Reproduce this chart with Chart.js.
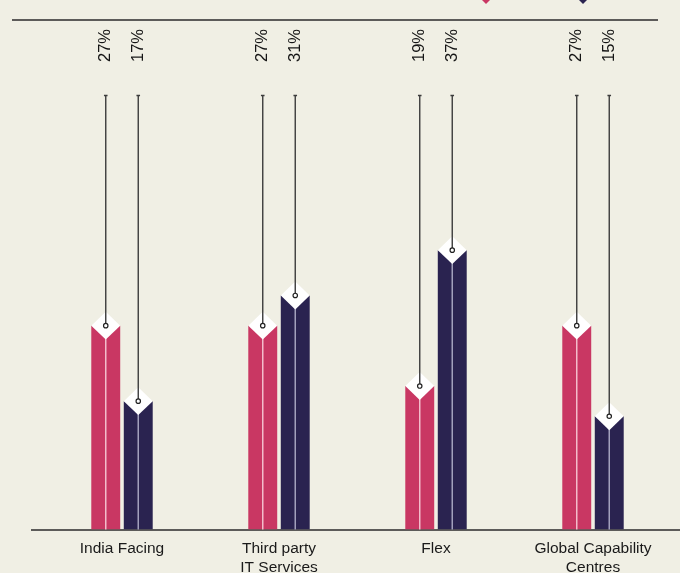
<!DOCTYPE html>
<html>
<head>
<meta charset="utf-8">
<script src="https://cdn.jsdelivr.net/npm/chart.js@4.4.1/dist/chart.umd.min.js"></script>
<style>
  html, body { margin: 0; padding: 0; background: #f0efe4; }
  #wrap { width: 680px; height: 573px; position: relative; }
</style>
</head>
<body>
<div id="wrap"><canvas id="workChart"></canvas></div>
<script>
// categories on the x axis (multi-line labels as arrays)
const categories = [['India Facing'], ['Third party', 'IT Services'], ['Flex'], ['Global Capability', 'Centres']];
const seriesNames = ['Series 1', 'Series 2'];
const pinkValues = [27, 27, 19, 27];
const navyValues = [17, 31, 37, 15];

const PINK = '#c93763';
const NAVY = '#2a2350';
const PINK_RIDGE = '#f3bccb';
const NAVY_RIDGE = '#a3a1bd';

// baseline, top rule and the legend markers peeking in at the top edge
const framePlugin = {
    id: 'frame',
    beforeDatasetsDraw(chart) {
        const ctx = chart.ctx;
        const bottom = chart.scales.y.getPixelForValue(0);
        ctx.save();
        ctx.strokeStyle = '#2b2b2b';
        ctx.lineWidth = 1.5;
        ctx.beginPath();
        ctx.moveTo(12, 20);
        ctx.lineTo(658, 20);
        ctx.moveTo(31, bottom + 0.5);
        ctx.lineTo(chart.width, bottom + 0.5);
        ctx.stroke();

        const marks = [[486, PINK], [583, NAVY]];
        marks.forEach(function(m) {
            ctx.fillStyle = m[1];
            ctx.beginPath();
            ctx.moveTo(m[0], -5);
            ctx.lineTo(m[0] + 4.5, -0.5);
            ctx.lineTo(m[0], 4);
            ctx.lineTo(m[0] - 4.5, -0.5);
            ctx.closePath();
            ctx.fill();
        });
        ctx.restore();
    }
};

// ridge line, white cap, leader line, dot and the rotated value label
const capPlugin = {
    id: 'caps',
    afterDatasetsDraw(chart) {
        const ctx = chart.ctx;
        ctx.save();
        chart.data.datasets.forEach(function(ds, di) {
            const meta = chart.getDatasetMeta(di);
            const ridge = di === 0 ? PINK_RIDGE : NAVY_RIDGE;
            meta.data.forEach(function(bar, i) {
                const x = bar.x;
                const y = bar.y;
                const hw = bar.width / 2;
                const hh = hw - 0.5;

                ctx.strokeStyle = ridge;
                ctx.lineWidth = 1.5;
                ctx.beginPath();
                ctx.moveTo(x, y);
                ctx.lineTo(x, bar.base);
                ctx.stroke();

                ctx.fillStyle = '#ffffff';
                ctx.beginPath();
                ctx.moveTo(x, y - hh);
                ctx.lineTo(x + hw, y);
                ctx.lineTo(x, y + hh);
                ctx.lineTo(x - hw, y);
                ctx.closePath();
                ctx.fill();

                ctx.strokeStyle = '#3c3c3c';
                ctx.lineWidth = 1.4;
                ctx.beginPath();
                ctx.moveTo(x, 95);
                ctx.lineTo(x, y);
                ctx.moveTo(x - 1.8, 95.5);
                ctx.lineTo(x + 1.8, 95.5);
                ctx.stroke();

                ctx.fillStyle = '#ffffff';
                ctx.strokeStyle = '#222';
                ctx.lineWidth = 1.2;
                ctx.beginPath();
                ctx.arc(x, y, 2.2, 0, Math.PI * 2);
                ctx.fill();
                ctx.stroke();

                ctx.save();
                ctx.translate(x, 29);
                ctx.rotate(-Math.PI / 2);
                ctx.fillStyle = '#151515';
                ctx.font = '16.5px "Liberation Sans", Arial, sans-serif';
                ctx.textAlign = 'right';
                ctx.textBaseline = 'middle';
                ctx.fillText(ds.data[i] + '%', 0, 0);
                ctx.restore();
            });
        });
        ctx.restore();
    }
};

const ctx = document.getElementById('workChart').getContext('2d');

const workChart = new Chart(ctx, {
    type: 'bar',
    data: {
        labels: categories,
        datasets: [
            {
                label: seriesNames[0],
                data: pinkValues,
                backgroundColor: PINK,
                borderWidth: 0,
                barPercentage: 0.89,
                categoryPercentage: 0.414
            },
            {
                label: seriesNames[1],
                data: navyValues,
                backgroundColor: NAVY,
                borderWidth: 0,
                barPercentage: 0.89,
                categoryPercentage: 0.414
            }
        ]
    },
    options: {
        responsive: true,
        maintainAspectRatio: false,
        animation: false,
        layout: {
            padding: { left: 43.5, right: 8.5, top: 76.5, bottom: 0 }
        },
        plugins: {
            legend: { display: false },
            tooltip: { enabled: false }
        },
        scales: {
            x: {
                grid: { display: false, drawTicks: false },
                border: { display: false },
                ticks: {
                    color: '#1a1a1a',
                    padding: 9.5,
                    font: { family: '"Liberation Sans", Arial, sans-serif', size: 15.5, lineHeight: 1.23 }
                },
                afterFit(scale) {
                    scale.height = 43.5;
                }
            },
            y: {
                display: false,
                min: 0,
                max: 60
            }
        }
    },
    plugins: [framePlugin, capPlugin]
});
</script>
</body>
</html>
